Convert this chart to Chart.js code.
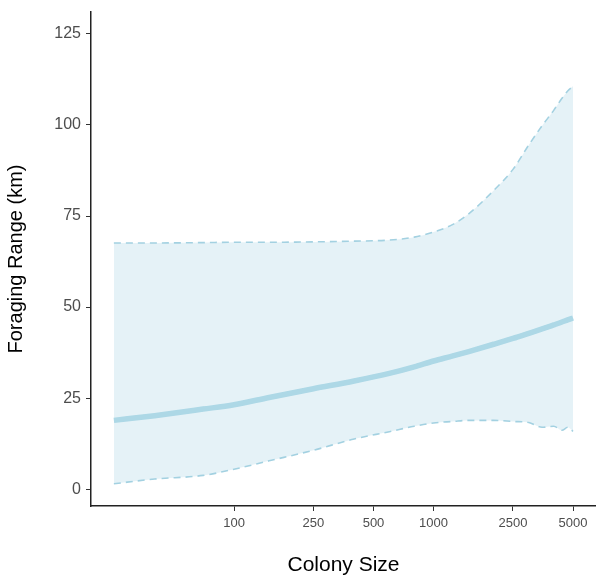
<!DOCTYPE html>
<html>
<head>
<meta charset="utf-8">
<script src="https://cdn.jsdelivr.net/npm/chart.js@4/dist/chart.umd.min.js"></script>
<style>
  html, body { margin: 0; padding: 0; background: #fff; }
  #wrap { width: 596px; height: 585px; }
</style>
</head>
<body>
<div id="wrap"><canvas id="chart"></canvas></div>
<script>
// colony size (log axis)
const colonySize = [25, 40, 70, 100, 150, 250, 400, 600, 800, 1000, 1250, 1500, 2000, 2500, 3000, 3500, 4000, 4400, 4700, 5000];
// fitted foraging range and its interval (km)
const fitRange   = [18.9, 20.2, 22.0, 23.2, 25.2, 27.6, 29.7, 31.8, 33.6, 35.2, 36.6, 37.8, 39.8, 41.4, 42.8, 44.0, 45.1, 45.9, 46.5, 47.0];
const upperRange = [67.6, 67.6, 67.7, 67.8, 67.8, 67.9, 68.1, 68.4, 69.2, 70.6, 72.7, 75.6, 82.0, 87.8, 94.5, 99.8, 104.0, 107.3, 109.3, 110.6];
const lowerRange = [1.5, 2.8, 3.8, 5.5, 7.8, 10.7, 13.8, 15.8, 17.3, 18.2, 18.6, 18.9, 18.9, 18.6, 18.3, 17.0, 17.3, 16.2, 17.0, 15.9];

const xTicks = [100, 250, 500, 1000, 2500, 5000];
const yTicks = [0, 25, 50, 75, 100, 125];

const toPoints = vals => colonySize.map((x, i) => ({ x: x, y: vals[i] }));

const lineBlue = '#ADD8E6';
const dashBlue = '#A3D1E1';

new Chart(document.getElementById('chart'), {
  type: 'line',
  data: {
    datasets: [
      { label: 'upper', data: toPoints(upperRange), borderColor: dashBlue, borderWidth: 1.6, borderDash: [7, 5],
        backgroundColor: 'rgba(173,216,230,0.32)', fill: '+1', pointRadius: 0, cubicInterpolationMode: 'monotone', order: 3 },
      { label: 'lower', data: toPoints(lowerRange), borderColor: dashBlue, borderWidth: 1.6, borderDash: [7, 5],
        fill: false, pointRadius: 0, cubicInterpolationMode: 'monotone', order: 2 },
      { label: 'fit', data: toPoints(fitRange), borderColor: lineBlue, borderWidth: 5.5,
        fill: false, pointRadius: 0, cubicInterpolationMode: 'monotone', order: 1 }
    ]
  },
  options: {
    responsive: true,
    maintainAspectRatio: false,
    animation: false,
    layout: { padding: { top: 0, right: 0, left: 0, bottom: 0 } },
    plugins: { legend: { display: false }, tooltip: { enabled: false } },
    scales: {
      x: {
        type: 'logarithmic',
        min: 19.2, max: 6516,
        afterBuildTicks: s => { s.ticks = xTicks.map(v => ({ value: v })); },
        afterFit: s => { s.height = 79; },
        grid: { display: true, drawOnChartArea: false, drawTicks: true, tickLength: 5, color: '#333', lineWidth: 1 },
        border: { display: true, color: '#222', width: 1.5 },
        ticks: { color: '#4d4d4d', font: { family: 'Liberation Sans', size: 13 }, padding: 5, maxRotation: 0,
                 autoSkip: false, callback: v => String(v) },
        title: { display: true, text: 'Colony Size', color: '#000', font: { family: 'Liberation Sans', size: 21 },
                 padding: { top: 0, bottom: 7 } }
      },
      y: {
        type: 'linear',
        min: -4.6, max: 131,
        afterBuildTicks: s => { s.ticks = yTicks.map(v => ({ value: v })); },
        afterFit: s => { s.width = 91; s.paddingTop = 12; },
        grid: { display: true, drawOnChartArea: false, drawTicks: true, tickLength: 5, color: '#333', lineWidth: 1 },
        border: { display: true, color: '#222', width: 1.5 },
        ticks: { color: '#4d4d4d', font: { family: 'Liberation Sans', size: 16 }, padding: 5 },
        title: { display: true, text: 'Foraging Range (km)', color: '#000', font: { family: 'Liberation Sans', size: 20 },
                 padding: { top: 4, bottom: 0 } }
      }
    }
  }
});
</script>
</body>
</html>
